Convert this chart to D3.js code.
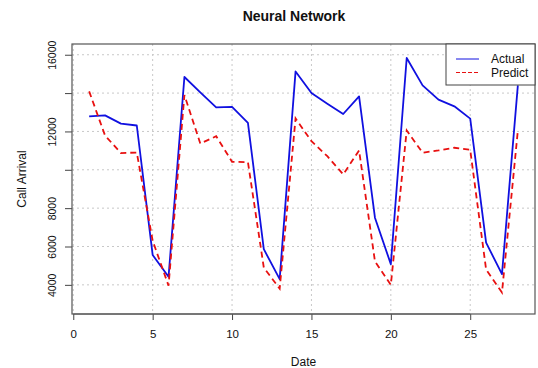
<!DOCTYPE html>
<html>
<head>
<meta charset="utf-8">
<script src="https://cdn.jsdelivr.net/npm/d3@7/dist/d3.min.js"></script>
<style>
  html, body { margin: 0; padding: 0; background: #fff; }
  svg text { font-family: "Liberation Sans", Arial, sans-serif; fill: #111; }
</style>
</head>
<body>
<svg id="chart" width="538" height="368"></svg>
<script>
// Daily call arrivals: observed vs neural-network forecast
const dates = d3.range(1, 29);
const actual = [12790, 12840, 12410, 12310, 5560, 4420, 14840,
                14040, 13260, 13280, 12450, 5860, 4300, 15130,
                14000, 13450, 12910, 13830, 7500, 5080, 15830,
                14400, 13660, 13310, 12670, 6200, 4560, 14400];
const predict = [14090, 11790, 10870, 10900, 6300, 3960, 13900,
                 11370, 11750, 10420, 10400, 4900, 3800, 12680,
                 11490, 10710, 9760, 11010, 5230, 4000, 12050,
                 10890, 11010, 11150, 11040, 4800, 3600, 12050];
const xTicks = [0, 5, 10, 15, 20, 25];
const yGrid = [4000, 6000, 8000, 10000, 12000, 14000, 16000];
const yLabels = [4000, 6000, 8000, 12000, 16000];
const seriesNames = ["Actual", "Predict"];

const plot = { left: 72, right: 535, top: 44, bottom: 314 };
const svg = d3.select("#chart");

const x = d3.scaleLinear().domain([-0.08, 29.08]).range([plot.left, plot.right]);
const y = d3.scaleLinear().domain([2480, 16560]).range([plot.bottom, plot.top]);

// dotted grid
const grid = svg.append("g").attr("stroke", "#c8c8c8").attr("stroke-width", 1)
  .attr("stroke-dasharray", "2,3");
grid.selectAll("line.v").data(xTicks).join("line").attr("class", "v")
  .attr("x1", d => x(d)).attr("x2", d => x(d))
  .attr("y1", plot.top).attr("y2", plot.bottom);
grid.selectAll("line.h").data(yGrid).join("line").attr("class", "h")
  .attr("x1", plot.left).attr("x2", plot.right)
  .attr("y1", d => y(d)).attr("y2", d => y(d));

// series
const line = d3.line().x((d, i) => x(dates[i])).y(d => y(d));
svg.append("path").datum(actual).attr("d", line)
  .attr("fill", "none").attr("stroke", "#1010e0").attr("stroke-width", 1.8)
  .attr("stroke-linejoin", "round");
svg.append("path").datum(predict).attr("d", line)
  .attr("fill", "none").attr("stroke", "#e81010").attr("stroke-width", 1.8)
  .attr("stroke-dasharray", "6,4");

// axes
const xAxis = svg.append("g").attr("transform", `translate(0,${plot.bottom})`)
  .call(d3.axisBottom(x).tickValues(xTicks).tickSize(6).tickPadding(10).tickFormat(d3.format("d")));
const yAxis = svg.append("g").attr("transform", `translate(${plot.left},0)`)
  .call(d3.axisLeft(y).tickValues(yGrid).tickSize(7).tickFormat(d => yLabels.includes(d) ? d : ""));
[xAxis, yAxis].forEach(a => {
  a.select(".domain").remove();
  a.selectAll(".tick line").attr("stroke", "#444");
  a.selectAll("text").style("font-family", "Liberation Sans, Arial, sans-serif")
    .attr("fill", "#222");
});
xAxis.selectAll("text").style("font-size", "11.5px");
// rotated y tick labels, as in base R graphics
yAxis.selectAll("text").style("font-size", "10.5px")
  .attr("text-anchor", "middle")
  .attr("x", null).attr("y", 0).attr("dy", "0.35em")
  .attr("transform", "translate(-20,0) rotate(-90)");

// x axis line and plot frame
svg.append("line").attr("x1", x(0)).attr("x2", x(25))
  .attr("y1", plot.bottom).attr("y2", plot.bottom).attr("stroke", "#555");
svg.append("rect").attr("x", plot.left).attr("y", plot.top)
  .attr("width", plot.right - plot.left).attr("height", plot.bottom - plot.top)
  .attr("fill", "none").attr("stroke", "#555").attr("stroke-width", 1.2);

// titles
svg.append("text").attr("x", 294).attr("y", 21).attr("text-anchor", "middle")
  .style("font-size", "14px").style("font-weight", "bold").text("Neural Network");
svg.append("text").attr("x", (plot.left + plot.right) / 2).attr("y", 366).attr("text-anchor", "middle")
  .style("font-size", "12px").text("Date");
svg.append("text").attr("transform", `translate(26,${(plot.top + plot.bottom) / 2}) rotate(-90)`)
  .attr("text-anchor", "middle").style("font-size", "12px").text("Call Arrival");

// legend
const lg = svg.append("g");
lg.append("rect").attr("x", 446).attr("y", plot.top).attr("width", plot.right - 446).attr("height", 41)
  .attr("fill", "#fff").attr("stroke", "#444").attr("stroke-width", 1);
const legendStyles = [{ color: "#1010e0", dash: null }, { color: "#e81010", dash: "4,2" }];
seriesNames.forEach((name, i) => {
  const ly = 59 + i * 13.5;
  lg.append("line").attr("x1", 456).attr("x2", 479).attr("y1", ly).attr("y2", ly)
    .attr("stroke", legendStyles[i].color).attr("stroke-width", 1)
    .attr("stroke-dasharray", legendStyles[i].dash);
  lg.append("text").attr("x", 491).attr("y", ly).attr("dy", "0.35em")
    .style("font-size", "12px").text(name);
});
</script>
</body>
</html>
